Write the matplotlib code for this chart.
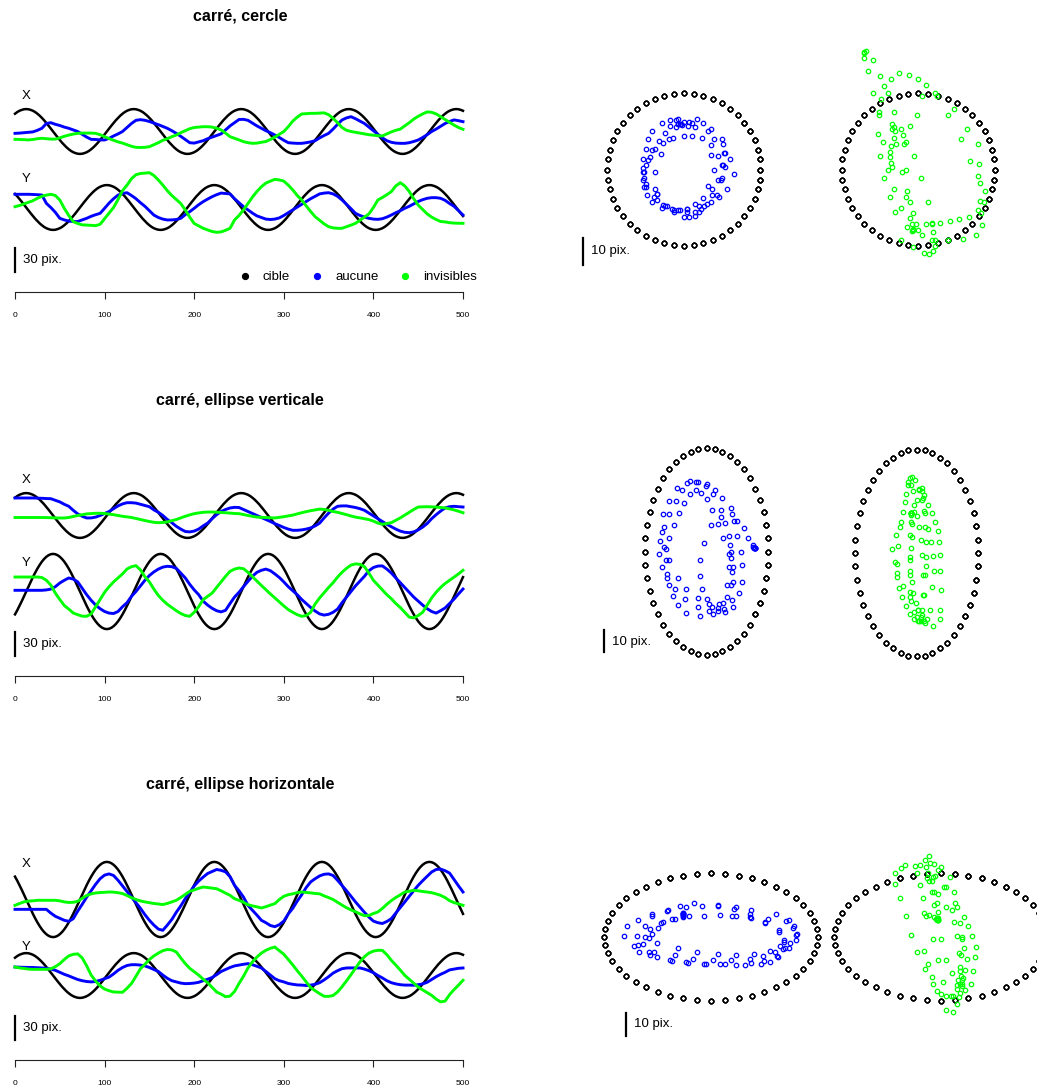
import numpy as np
import matplotlib
matplotlib.use("Agg")
import matplotlib.pyplot as plt
from matplotlib.lines import Line2D

plt.rcParams['font.family'] = ['Liberation Sans', 'DejaVu Sans']

# ---------------- data (pix.) ----------------
titles = ["carré, cercle", "carré, ellipse verticale", "carré, ellipse horizontale"]
series_labels = ["cible", "aucune", "invisibles"]
x_ticks = [0, 100, 200, 300, 400, 500]

t_cible = np.linspace(0, 500, 201)   # target sampled every 2.5
t_mouv = np.linspace(0, 500, 101)    # movements sampled every 5

cible_x1 = [
    22.2, 24.3, 25.9, 27.0, 27.8, 28.0, 27.8, 27.0, 25.9, 24.3, 22.2, 19.8,
    17.0, 14.0, 10.7, 7.2, 3.7, 0.0, -3.7, -7.2, -10.7, -14.0, -17.0, -19.8,
    -22.2, -24.3, -25.9, -27.0, -27.8, -28.0, -27.8, -27.0, -25.9, -24.3, -22.2, -19.8,
    -17.0, -14.0, -10.7, -7.2, -3.7, 0.0, 3.7, 7.2, 10.7, 14.0, 17.0, 19.8,
    22.2, 24.3, 25.9, 27.0, 27.8, 28.0, 27.8, 27.0, 25.9, 24.3, 22.2, 19.8,
    17.0, 14.0, 10.7, 7.2, 3.7, 0.0, -3.7, -7.2, -10.7, -14.0, -17.0, -19.8,
    -22.2, -24.3, -25.9, -27.0, -27.8, -28.0, -27.8, -27.0, -25.9, -24.3, -22.2, -19.8,
    -17.0, -14.0, -10.7, -7.2, -3.7, 0.0, 3.7, 7.2, 10.7, 14.0, 17.0, 19.8,
    22.2, 24.3, 25.9, 27.0, 27.8, 28.0, 27.8, 27.0, 25.9, 24.3, 22.2, 19.8,
    17.0, 14.0, 10.7, 7.2, 3.7, 0.0, -3.7, -7.2, -10.7, -14.0, -17.0, -19.8,
    -22.2, -24.3, -25.9, -27.0, -27.8, -28.0, -27.8, -27.0, -25.9, -24.3, -22.2, -19.8,
    -17.0, -14.0, -10.7, -7.2, -3.7, 0.0, 3.7, 7.2, 10.7, 14.0, 17.0, 19.8,
    22.2, 24.3, 25.9, 27.0, 27.8, 28.0, 27.8, 27.0, 25.9, 24.3, 22.2, 19.8,
    17.0, 14.0, 10.7, 7.2, 3.7, 0.0, -3.7, -7.2, -10.7, -14.0, -17.0, -19.8,
    -22.2, -24.3, -25.9, -27.0, -27.8, -28.0, -27.8, -27.0, -25.9, -24.3, -22.2, -19.8,
    -17.0, -14.0, -10.7, -7.2, -3.7, 0.0, 3.7, 7.2, 10.7, 14.0, 17.0, 19.8,
    22.2, 24.3, 25.9, 27.0, 27.8, 28.0, 27.8, 27.0, 25.9]
cible_y1 = [
    17.0, 14.0, 10.7, 7.2, 3.7, 0.0, -3.7, -7.2, -10.7, -14.0, -17.0, -19.8,
    -22.2, -24.3, -25.9, -27.0, -27.8, -28.0, -27.8, -27.0, -25.9, -24.3, -22.2, -19.8,
    -17.0, -14.0, -10.7, -7.2, -3.7, 0.0, 3.7, 7.2, 10.7, 14.0, 17.0, 19.8,
    22.2, 24.3, 25.9, 27.0, 27.8, 28.0, 27.8, 27.0, 25.9, 24.3, 22.2, 19.8,
    17.0, 14.0, 10.7, 7.2, 3.7, 0.0, -3.7, -7.2, -10.7, -14.0, -17.0, -19.8,
    -22.2, -24.3, -25.9, -27.0, -27.8, -28.0, -27.8, -27.0, -25.9, -24.3, -22.2, -19.8,
    -17.0, -14.0, -10.7, -7.2, -3.7, 0.0, 3.7, 7.2, 10.7, 14.0, 17.0, 19.8,
    22.2, 24.3, 25.9, 27.0, 27.8, 28.0, 27.8, 27.0, 25.9, 24.3, 22.2, 19.8,
    17.0, 14.0, 10.7, 7.2, 3.7, 0.0, -3.7, -7.2, -10.7, -14.0, -17.0, -19.8,
    -22.2, -24.3, -25.9, -27.0, -27.8, -28.0, -27.8, -27.0, -25.9, -24.3, -22.2, -19.8,
    -17.0, -14.0, -10.7, -7.2, -3.7, 0.0, 3.7, 7.2, 10.7, 14.0, 17.0, 19.8,
    22.2, 24.3, 25.9, 27.0, 27.8, 28.0, 27.8, 27.0, 25.9, 24.3, 22.2, 19.8,
    17.0, 14.0, 10.7, 7.2, 3.7, 0.0, -3.7, -7.2, -10.7, -14.0, -17.0, -19.8,
    -22.2, -24.3, -25.9, -27.0, -27.8, -28.0, -27.8, -27.0, -25.9, -24.3, -22.2, -19.8,
    -17.0, -14.0, -10.7, -7.2, -3.7, 0.0, 3.7, 7.2, 10.7, 14.0, 17.0, 19.8,
    22.2, 24.3, 25.9, 27.0, 27.8, 28.0, 27.8, 27.0, 25.9, 24.3, 22.2, 19.8,
    17.0, 14.0, 10.7, 7.2, 3.7, 0.0, -3.7, -7.2, -10.7]
cible_x2 = list(cible_x1)
cible_y2 = [
    -28.6, -23.5, -18.0, -12.2, -6.1, 0.0, 6.1, 12.2, 18.0, 23.5, 28.6, 33.2,
    37.3, 40.7, 43.4, 45.4, 46.6, 47.0, 46.6, 45.4, 43.4, 40.7, 37.3, 33.2,
    28.6, 23.5, 18.0, 12.2, 6.1, 0.0, -6.1, -12.2, -18.0, -23.5, -28.6, -33.2,
    -37.3, -40.7, -43.4, -45.4, -46.6, -47.0, -46.6, -45.4, -43.4, -40.7, -37.3, -33.2,
    -28.6, -23.5, -18.0, -12.2, -6.1, 0.0, 6.1, 12.2, 18.0, 23.5, 28.6, 33.2,
    37.3, 40.7, 43.4, 45.4, 46.6, 47.0, 46.6, 45.4, 43.4, 40.7, 37.3, 33.2,
    28.6, 23.5, 18.0, 12.2, 6.1, 0.0, -6.1, -12.2, -18.0, -23.5, -28.6, -33.2,
    -37.3, -40.7, -43.4, -45.4, -46.6, -47.0, -46.6, -45.4, -43.4, -40.7, -37.3, -33.2,
    -28.6, -23.5, -18.0, -12.2, -6.1, 0.0, 6.1, 12.2, 18.0, 23.5, 28.6, 33.2,
    37.3, 40.7, 43.4, 45.4, 46.6, 47.0, 46.6, 45.4, 43.4, 40.7, 37.3, 33.2,
    28.6, 23.5, 18.0, 12.2, 6.1, 0.0, -6.1, -12.2, -18.0, -23.5, -28.6, -33.2,
    -37.3, -40.7, -43.4, -45.4, -46.6, -47.0, -46.6, -45.4, -43.4, -40.7, -37.3, -33.2,
    -28.6, -23.5, -18.0, -12.2, -6.1, 0.0, 6.1, 12.2, 18.0, 23.5, 28.6, 33.2,
    37.3, 40.7, 43.4, 45.4, 46.6, 47.0, 46.6, 45.4, 43.4, 40.7, 37.3, 33.2,
    28.6, 23.5, 18.0, 12.2, 6.1, 0.0, -6.1, -12.2, -18.0, -23.5, -28.6, -33.2,
    -37.3, -40.7, -43.4, -45.4, -46.6, -47.0, -46.6, -45.4, -43.4, -40.7, -37.3, -33.2,
    -28.6, -23.5, -18.0, -12.2, -6.1, 0.0, 6.1, 12.2, 18.0]
cible_x3 = [
    28.6, 23.5, 18.0, 12.2, 6.1, 0.0, -6.1, -12.2, -18.0, -23.5, -28.6, -33.2,
    -37.3, -40.7, -43.4, -45.4, -46.6, -47.0, -46.6, -45.4, -43.4, -40.7, -37.3, -33.2,
    -28.6, -23.5, -18.0, -12.2, -6.1, 0.0, 6.1, 12.2, 18.0, 23.5, 28.6, 33.2,
    37.3, 40.7, 43.4, 45.4, 46.6, 47.0, 46.6, 45.4, 43.4, 40.7, 37.3, 33.2,
    28.6, 23.5, 18.0, 12.2, 6.1, 0.0, -6.1, -12.2, -18.0, -23.5, -28.6, -33.2,
    -37.3, -40.7, -43.4, -45.4, -46.6, -47.0, -46.6, -45.4, -43.4, -40.7, -37.3, -33.2,
    -28.6, -23.5, -18.0, -12.2, -6.1, 0.0, 6.1, 12.2, 18.0, 23.5, 28.6, 33.2,
    37.3, 40.7, 43.4, 45.4, 46.6, 47.0, 46.6, 45.4, 43.4, 40.7, 37.3, 33.2,
    28.6, 23.5, 18.0, 12.2, 6.1, 0.0, -6.1, -12.2, -18.0, -23.5, -28.6, -33.2,
    -37.3, -40.7, -43.4, -45.4, -46.6, -47.0, -46.6, -45.4, -43.4, -40.7, -37.3, -33.2,
    -28.6, -23.5, -18.0, -12.2, -6.1, 0.0, 6.1, 12.2, 18.0, 23.5, 28.6, 33.2,
    37.3, 40.7, 43.4, 45.4, 46.6, 47.0, 46.6, 45.4, 43.4, 40.7, 37.3, 33.2,
    28.6, 23.5, 18.0, 12.2, 6.1, 0.0, -6.1, -12.2, -18.0, -23.5, -28.6, -33.2,
    -37.3, -40.7, -43.4, -45.4, -46.6, -47.0, -46.6, -45.4, -43.4, -40.7, -37.3, -33.2,
    -28.6, -23.5, -18.0, -12.2, -6.1, 0.0, 6.1, 12.2, 18.0, 23.5, 28.6, 33.2,
    37.3, 40.7, 43.4, 45.4, 46.6, 47.0, 46.6, 45.4, 43.4, 40.7, 37.3, 33.2,
    28.6, 23.5, 18.0, 12.2, 6.1, 0.0, -6.1, -12.2, -18.0]
cible_y3 = list(cible_x1)

# movements, one value every 5 time steps (lines of 10 = 50 steps)
aucune_x1 = [
    -2.3, -2.0, -1.5, -1.0, -0.5, 1.5, 4, 10, 11, 9,
    7.5, 5.5, 4, 2, 0, -3.5, -7, -9.8, -10, -10.5,
    -10.6, -8.5, -5.6, -3, 0, 5, 10, 14, 14.8, 14,
    12.5, 10.5, 8.5, 6.3, 4, 1, -2.3, -6, -10, -14,
    -14.5, -13, -11.5, -9, -7, -5, -3, 2, 7, 11,
    15, 15.2, 14, 10.5, 7, 4, 1, -1.5, -4.4, -7.5,
    -11, -14, -14.5, -14.8, -14.8, -14, -13, -11.5, -8, -5,
    -2.3, 3, 9, 14.4, 17, 18.5, 16, 13, 10, 5.5,
    1, -3.5, -8, -11.5, -13.5, -14.5, -14.8, -14.8, -14, -12.5,
    -10.6, -7.5, -4, 0, 3, 6.5, 10, 12.5, 14.5, 13.5,
    12.3]
invisibles_x1 = [
    -9.8, -10.0, -10.2, -10.5, -10, -9, -8.5, -9, -9.5, -9.5,
    -8, -6, -4.5, -3.2, -2.3, -2, -2, -2, -2.3, -4,
    -6.5, -8.8, -11, -13, -14.5, -16.5, -18.5, -19.8, -20, -19.8,
    -19, -16.5, -14, -11, -9, -6.5, -4.4, -1.5, 1, 3.5,
    5, 5.5, 6, 6, 5.5, 4, 2, -2, -6.5, -8.5,
    -10.5, -12.7, -14, -14.8, -14.5, -13.5, -12.5, -10, -7, -3.5,
    0, 6, 13, 18, 21.9, 22.3, 22.7, 22.7, 23, 23.3,
    21, 16.5, 11, 5, 1.5, 0, -1, -2, -3, -4,
    -4.6, -5.2, -5.6, -3, -0.5, 1.5, 3, 7, 11, 15.5,
    19, 22, 24.5, 24, 22, 18.5, 15, 11.5, 8, 5,
    2.7]
aucune_y1 = [
    16.5, 16.5, 16.5, 16.5, 16.3, 16, 15.6, 5.2, 0, -6,
    -13.5, -15.5, -17, -17.5, -17.5, -15.5, -13.5, -11, -9, -7.3,
    -1, 5.5, 11, 15.5, 17.5, 18.5, 15, 11, 6, 1.5,
    -4, -9.5, -12.5, -14.5, -15.6, -15.5, -15, -13.5, -9, -5.2,
    -1, 3.5, 7.3, 10.5, 13.5, 16, 18, 17.5, 17, 11,
    6, 1, -3, -7, -10.5, -12.5, -14.5, -15, -14.5, -13,
    -10, -6.5, -3, 0.5, 4, 7.5, 11, 14, 17, 18,
    18.5, 17, 14, 9.4, 4, -1.5, -7.3, -10, -12, -13.5,
    -14.5, -14.8, -14, -12, -9.4, -6.5, -4, -1, 1.5, 4.5,
    7.5, 9.8, 11.5, 12.3, 12.3, 11.5, 9, 5, 1.5, -4,
    -9.4]
invisibles_y1 = [
    1, 2.5, 4.5, 6.5, 8.5, 11.5, 14, 15.5, 16.5, 15,
    9.4, -1, -10, -17.7, -20, -21.7, -22, -22.3, -22.7, -21,
    -14, -7, 0, 10, 21, 28, 36, 41, 42.5, 43,
    43.5, 40, 34.4, 28, 21, 15, 10, 5, -3, -12,
    -20, -23, -26, -28, -30, -31, -30.5, -28.5, -26, -15.6,
    -10, -3, 5, 13, 20, 26, 30.5, 33, 35.2, 34.5,
    33, 28, 22, 15, 9.4, 2, -5, -11.5, -16, -20.5,
    -24, -25.5, -26, -26, -24, -22, -19.8, -16, -12, -8,
    0, 9.4, 12.5, 16, 19.8, 27, 31, 27, 20, 11,
    3, -2.5, -8, -12, -15, -17.5, -18, -19, -19.5, -19.7,
    -19.8]

aucune_x2 = [
    21.9, 21.9, 21.9, 21.9, 21.9, 21.7, 21.5, 21.2, 21, 19,
    17, 14, 11.5, 6.5, 2, -1, -3.1, -3, -2, 0,
    2.5, 5, 8.5, 12, 14.5, 16, 16, 15.5, 14, 12.5,
    11, 7, 4, 0, -5, -9, -13.5, -17, -20, -20.5,
    -19.5, -17, -13, -9.5, -4, 1, 5, 7.5, 9.4, 10.2,
    10, 7.5, 5, 2.5, 0, -2.5, -5, -7.5, -10.2, -12.5,
    -15, -17, -18.5, -18.5, -18, -17, -15.5, -13, -9.5, -3,
    3, 8, 11.5, 12, 12, 11, 10, 8.5, 6.5, 3,
    -0.5, -4, -7.5, -11, -14, -17, -19.5, -21, -21.5, -20.5,
    -18, -14.5, -10, -4, 1, 5.5, 9.4, 11, 11.5, 11,
    10.6]
aucune_y2 = [
    1.5, 1.5, 1.5, 1.5, 1.5, 1.5, 1.5, 2, 3, 6,
    10.6, 14, 16.9, 15.5, 12, 4, -4, -11, -17, -21.5,
    -25, -27, -27.5, -25, -19, -14, -6, 0, 7, 14,
    20, 24.5, 28, 30.5, 31.5, 31, 29, 23, 17, 9,
    2, -4, -12, -17, -21, -24, -25.5, -23.5, -15, -7,
    -1, 6, 12.7, 19, 24, 26.5, 28, 26, 22, 17.5,
    12, 6, 1, -4, -10, -15, -20, -24.5, -28, -29.5,
    -28.5, -26, -22, -14, -7, 0, 7, 13, 19, 26,
    30, 31.8, 32, 28, 23.1, 17, 11, 5, -1, -7,
    -12, -17, -21.5, -25, -27, -24, -20.6, -15, -9.5, -3,
    3.1]
invisibles_x2 = [
    -2.5, -2.5, -2.5, -2.5, -2.5, -2.5, -2.5, -2.6, -2.8, -3,
    -3.1, -3.1, -2.5, -1.2, 0, 1, 2, 2.4, 2.8, 2.8,
    2.5, 1.8, 1, 0, -1, -1.7, -2.5, -3.7, -5, -6.3,
    -7.5, -8.5, -9, -8.7, -8, -6.5, -5, -3, -1, 0.8,
    2.3, 3.2, 4, 4.3, 4.4, 4.1, 3.8, 3.4, 3, 2.5,
    2.3, 1.2, 0, -1, -2, -2.3, -2.5, -2.8, -3.1, -2.3,
    -1.5, -0.5, 0.5, 2, 3.5, 4.8, 6, 7, 8, 7.5,
    6.5, 5, 4, 2.5, 1, -0.6, -2, -3, -4, -5.2,
    -7, -9.5, -11, -10, -9, -6, -3, 0.5, 4, 7.5,
    10.6, 10.8, 11, 10.8, 10.6, 10, 9.5, 8.3, 7, 5.3,
    3.5]
invisibles_y2 = [
    18.1, 18.1, 18.1, 18.1, 18.1, 18.1, 17.5, 14, 8, -2,
    -10, -17.5, -22, -26.9, -29, -30.8, -31, -28, -19, -10,
    -1, 6, 12, 17, 22, 28.1, 31, 32.3, 27, 18.5,
    12, 3, -5, -11, -16, -20, -24, -27.5, -30, -31,
    -26, -19, -10.2, -6, -2, 5, 12, 19, 25.2, 28,
    29.4, 28.5, 24, 18.5, 13, 7.5, 2.3, -3, -8, -13,
    -18, -22.7, -26, -29, -31, -30, -26, -15.5, -8, -1.5,
    5, 11, 18, 24, 29, 33, 34.5, 34, 31, 23,
    14, 8, 2, -4, -9, -15, -20, -26, -32, -33,
    -30, -26, -17, -8.1, -1, 5, 10, 14, 18, 22,
    26.5]

aucune_x3 = [
    -12.3, -12.3, -12.3, -12.3, -12.3, -12.3, -12.3, -12.3, -17, -21,
    -23.5, -26, -27.3, -24, -14.5, -6, 3, 11, 19, 26,
    30.5, 32, 30, 24, 17, 10, 3, -4, -11, -19,
    -26, -32, -37, -38.5, -32, -25, -16, -8, 1, 9,
    17, 23, 28, 32.5, 35, 37.5, 36.5, 34.5, 28.5, 17.7,
    11, 3, -7.3, -13.5, -19.5, -26, -29, -32.5, -34, -31.5,
    -27, -18, -11, -2, 6, 15, 22, 26, 29.5, 31.5,
    32, 30, 24, 17.5, 11, 4, -3, -9.5, -16, -22,
    -27, -29, -30, -27.5, -24, -17, -10, -3.1, 4, 11,
    17.7, 23.5, 29, 34.4, 37.5, 38, 36, 33, 25, 17,
    9.4]
aucune_y3 = [
    10.6, 10.4, 10.2, 10.1, 10, 9.7, 9.4, 9, 8, 6.5,
    4, 1.5, -0.5, -2.8, -5, -6.5, -7.5, -8, -7.5, -6,
    -4, -2, 2, 6.5, 10, 12.5, 13.5, 13.5, 13, 12,
    10, 7.5, 5, 0.5, -3.5, -6.5, -8, -9.5, -10.2, -10,
    -9.5, -8.5, -6.5, -4.7, -2.5, 1, 5, 7.5, 10, 12,
    13, 14, 14.8, 13.5, 11.5, 9.4, 5, 0.5, -4, -6.5,
    -8, -10, -11, -11.8, -12, -12.5, -12, -11, -9, -5.5,
    -1.5, 3, 6, 8.5, 9.4, 9.5, 9.4, 9.4, 8, 6,
    3.5, 0, -3, -6.5, -9, -10.5, -11.5, -12, -12, -12.2,
    -11.5, -10.5, -8.5, -5, -1.5, 1.5, 4, 7, 8, 9,
    9.4]
invisibles_x3 = [
    -7.3, -5, -3, -2, -1.6, -1, -1, -1, -1, -1,
    -1.7, -3, -3.7, -3.5, -2.3, 1.5, 5, 7, 8.2, 8.7,
    9, 9.4, 9.2, 8.5, 7.4, 5, 2.3, 0, -1.8, -3,
    -4, -5, -5.6, -6.3, -4.9, -3, -1, 2.5, 6.3, 10.2,
    12, 14, 15.6, 15, 14.2, 13.5, 10.8, 8, 5.2, 1,
    -1, -3.5, -6.5, -8, -9.2, -10.6, -9, -7, -5.2, 0,
    4, 6, 7.1, 8.5, 9.4, 8.8, 8.3, 7.5, 7.1, 4.5,
    2.4, 0, -3.5, -7, -10.3, -13, -15.3, -18, -20.3, -20,
    -17.5, -15.6, -11.2, -6, -1.4, 2.5, 5.8, 9.4, 10.3, 11.5,
    10.9, 10, 9.3, 8.5, 7, 5.2, 2.4, -1.5, -3.9, -5.5,
    -7.3]
invisibles_y3 = [
    10.6, 9.5, 8.8, 8, 7.7, 7.7, 7.7, 7.7, 8.3, 11,
    14.8, 20, 24.5, 26.5, 27, 22, 12, 0.5, -7, -13,
    -17, -19, -20.6, -20.8, -21, -16, -10, -1, 8.5, 14,
    20, 24.5, 28, 31, 32.5, 32, 29.4, 22, 14.9, 9,
    4.7, 0.5, -4.6, -9, -14.8, -20.6, -23.3, -26.5, -25.8, -20,
    -10, -1, 9.4, 17, 23.1, 28, 31.5, 34, 35.6, 31,
    26.6, 20, 13.2, 6, -0.8, -8, -15, -19, -22.7, -26,
    -26.1, -25, -20.6, -14, -6.6, 1, 9.1, 17, 23.5, 28,
    30.5, 31.5, 31.4, 26, 19, 13, 6.8, 0.2, -4.7, -9.6,
    -14.4, -18, -21.4, -24.8, -29.5, -33, -32, -24, -17.6, -12,
    -6]

rows = [
    dict(cx=cible_x1, cy=cible_y1, ax_=aucune_x1, ay=aucune_y1, ix=invisibles_x1, iy=invisibles_y1),
    dict(cx=cible_x2, cy=cible_y2, ax_=aucune_x2, ay=aucune_y2, ix=invisibles_x2, iy=invisibles_y2),
    dict(cx=cible_x3, cy=cible_y3, ax_=aucune_x3, ay=aucune_y3, ix=invisibles_x3, iy=invisibles_y3),
]

# ---------------- layout ----------------
W, H = 1037, 1088
fig = plt.figure(figsize=(W / 100, H / 100), dpi=100)
C_BLACK, C_BLUE, C_GREEN = "#000000", "#0000FF", "#00FF00"
FS = 9.5


def box(x0, y0, w, h):
    return [x0 / W, 1 - (y0 + h) / H, w / W, h / H]


ROW_DY = [0, 384, 768]
K_LEFT = 0.8          # px per pix-unit, left panels
X_OFFSET = 95         # vertical offset of the X trace above the Y trace
RIGHT = [
    [(683.8, 169.5, 2.73), (918.3, 169.5, 2.73)],
    [(706.6, 551.5, 2.2), (916.6, 553.0, 2.2)],
    [(711.0, 937.0, 2.27), (940.7, 937.0, 2.27)],
]
BAR_R = [(583, 265, 591, 251), (604.3, 652, 612, 641.5), (626, 1036, 634, 1024)]

for r in range(3):
    dy = ROW_DY[r]
    d = rows[r]
    yc = 207.5 + dy
    top, bot = 60 + dy, 292 + dy
    ax = fig.add_axes(box(15, top, 448, bot - top))
    ax.set_xlim(0, 500)
    ax.set_ylim((yc - bot) / K_LEFT, (yc - top) / K_LEFT)
    lwb, lwc = 1.8, 2.1
    ax.plot(t_cible, np.array(d['cx']) + X_OFFSET, color=C_BLACK, lw=lwb, clip_on=False)
    ax.plot(t_cible, d['cy'], color=C_BLACK, lw=lwb, clip_on=False)
    ax.plot(t_mouv, np.array(d['ax_']) + X_OFFSET, color=C_BLUE, lw=lwc, clip_on=False)
    ax.plot(t_mouv, d['ay'], color=C_BLUE, lw=lwc, clip_on=False)
    ax.plot(t_mouv, np.array(d['ix']) + X_OFFSET, color=C_GREEN, lw=lwc, clip_on=False)
    ax.plot(t_mouv, d['iy'], color=C_GREEN, lw=lwc, clip_on=False)
    for s in ['left', 'right', 'top']:
        ax.spines[s].set_visible(False)
    ax.spines['bottom'].set_linewidth(0.8)
    ax.spines['bottom'].set_color('#222222')
    ax.set_yticks([])
    ax.set_xticks(x_ticks)
    ax.tick_params(axis='x', direction='out', length=5, width=0.8, color='#222222',
                   labelsize=6, pad=9.5)
    ax.text((26 - 15) / 0.896, (yc - (96 + dy)) / K_LEFT, "X", ha='center', va='center', fontsize=FS)
    ax.text((26 - 15) / 0.896, (yc - (179 + dy)) / K_LEFT, "Y", ha='center', va='center', fontsize=FS)
    yb = (yc - (272 + dy)) / K_LEFT
    ax.plot([0, 0], [yb, yb + 30], color='black', lw=1.6, clip_on=False)
    ax.text((23 - 15) / 0.896, yb + 15, "30 pix.", ha='left', va='center', fontsize=FS)
    fig.text(240 / W, 1 - (16 + dy) / H, titles[r], ha='center', va='center',
             fontsize=11.5, fontweight='bold')
    if r == 0:
        handles = [Line2D([0], [0], marker='o', ls='none', color=c, markersize=4.2)
                   for c in (C_BLACK, C_BLUE, C_GREEN)]
        ax.legend(handles, series_labels, ncol=3, frameon=False, loc='center left',
                  bbox_to_anchor=(238.5 / W, 1 - 277 / H), bbox_transform=fig.transFigure,
                  fontsize=FS, handlelength=1.0, handletextpad=0.85, columnspacing=1.55,
                  borderpad=0, borderaxespad=0)

    S = 118
    for j, (cxp, cyp, k) in enumerate(RIGHT[r]):
        sax = fig.add_axes(box(cxp - S, cyp - S, 2 * S, 2 * S))
        sax.set_xlim(-S / k, S / k)
        sax.set_ylim(-S / k, S / k)
        sax.axis('off')
        sax.plot(d['cx'], d['cy'], 'o', mfc='none', mec=C_BLACK, ms=3.3, mew=0.9, clip_on=False)
        if j == 0:
            sax.plot(d['ax_'], d['ay'], 'o', mfc='none', mec=C_BLUE, ms=3.2, mew=0.9, clip_on=False)
            bx, bby, tx, ty = BAR_R[r]
            xb = (bx - cxp) / k
            yb0 = (cyp - bby) / k
            sax.plot([xb, xb], [yb0, yb0 + 10], color='black', lw=1.6, clip_on=False)
            sax.text((tx - cxp) / k, (cyp - ty) / k, "10 pix.", ha='left', va='center',
                     fontsize=FS)
        else:
            sax.plot(d['ix'], d['iy'], 'o', mfc='none', mec=C_GREEN, ms=3.2, mew=0.9, clip_on=False)

fig.savefig("out.png", dpi=100)
